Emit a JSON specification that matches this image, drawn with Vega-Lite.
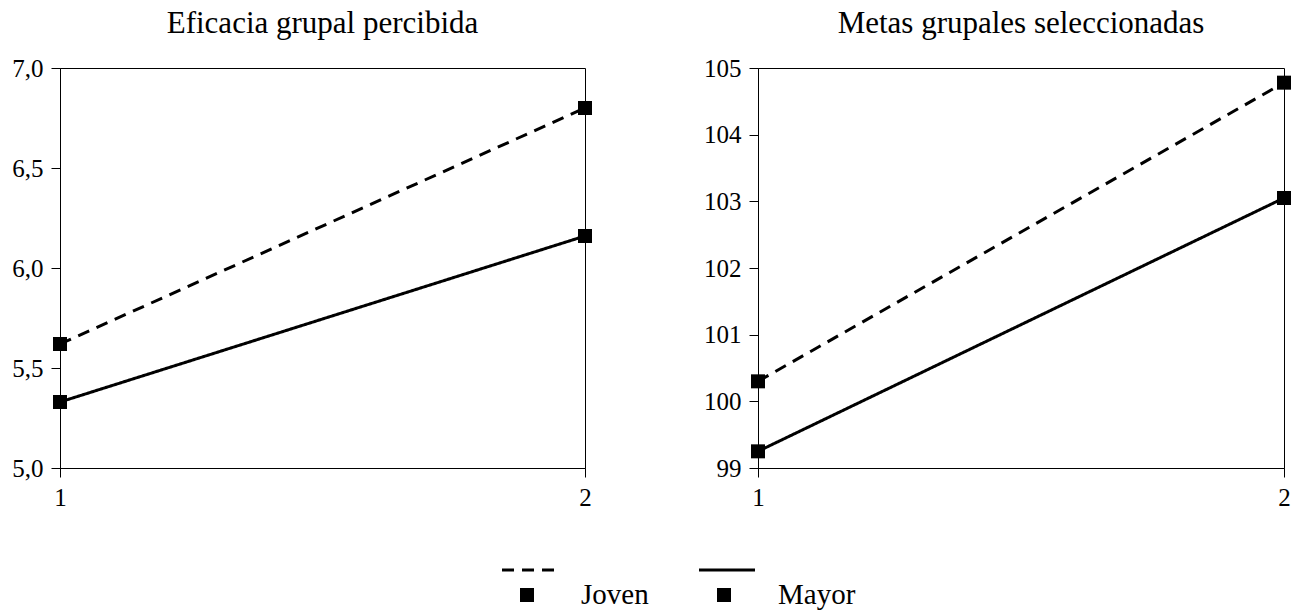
{
  "$schema": "https://vega.github.io/schema/vega-lite/v6.json",
  "background": "white",
  "padding": {"top": 7, "left": 11, "right": 5, "bottom": 0},
  "datasets": {
    "eficacia": [
      {"momento": 1, "grupo": "Joven", "valor": 5.62},
      {"momento": 2, "grupo": "Joven", "valor": 6.80},
      {"momento": 1, "grupo": "Mayor", "valor": 5.33},
      {"momento": 2, "grupo": "Mayor", "valor": 6.16}
    ],
    "metas": [
      {"momento": 1, "grupo": "Joven", "valor": 100.3},
      {"momento": 2, "grupo": "Joven", "valor": 104.78},
      {"momento": 1, "grupo": "Mayor", "valor": 99.25},
      {"momento": 2, "grupo": "Mayor", "valor": 103.05}
    ],
    "leyenda": [
      {"grupo": "Joven"},
      {"grupo": "Mayor"}
    ]
  },
  "config": {
    "view": {"stroke": "black", "strokeWidth": 1},
    "axis": {
      "grid": false,
      "domainColor": "black",
      "domainWidth": 1,
      "tickColor": "black",
      "tickWidth": 1,
      "tickSize": 9,
      "labelColor": "black",
      "labelFont": "Liberation Serif, Times New Roman, serif",
      "labelFontSize": 25,
      "labelFontWeight": "normal",
      "labelPadding": 8,
      "title": null
    },
    "title": {"font": "Liberation Serif, Times New Roman, serif", "fontSize": 31, "fontWeight": "normal", "color": "black", "offset": 16}
  },
  "vconcat": [
    {
      "hconcat": [
        {
          "title": "Eficacia grupal percibida",
          "width": 525,
          "height": 400,
          "data": {"name": "eficacia"},
          "encoding": {
            "x": {"field": "momento", "type": "quantitative", "scale": {"domain": [1, 2], "nice": false, "zero": false}, "axis": {"values": [1, 2], "format": "d", "labelFlush": false, "labelPadding": 8}},
            "y": {"field": "valor", "type": "quantitative", "scale": {"domain": [5, 7], "nice": false, "zero": false}, "axis": {"values": [5, 5.5, 6, 6.5, 7], "labelExpr": "replace(format(datum.value, '.1f'), '.', ',')"}}
          },
          "layer": [
            {
              "mark": {"type": "line", "color": "black", "strokeWidth": 3},
              "encoding": {
                "strokeDash": {"field": "grupo", "type": "nominal", "scale": {"domain": ["Joven", "Mayor"], "range": [[12, 8], [1, 0]]}, "legend": null}
              }
            },
            {
              "mark": {"type": "point", "shape": "square", "filled": true, "size": 196, "color": "black", "opacity": 1},
              "encoding": {"detail": {"field": "grupo"}}
            }
          ]
        },
        {
          "title": "Metas grupales seleccionadas",
          "width": 526,
          "height": 400,
          "data": {"name": "metas"},
          "encoding": {
            "x": {"field": "momento", "type": "quantitative", "scale": {"domain": [1, 2], "nice": false, "zero": false}, "axis": {"values": [1, 2], "format": "d", "labelFlush": false, "labelPadding": 8}},
            "y": {"field": "valor", "type": "quantitative", "scale": {"domain": [99, 105], "nice": false, "zero": false}, "axis": {"values": [99, 100, 101, 102, 103, 104, 105], "format": "d"}}
          },
          "layer": [
            {
              "mark": {"type": "line", "color": "black", "strokeWidth": 3},
              "encoding": {
                "strokeDash": {"field": "grupo", "type": "nominal", "scale": {"domain": ["Joven", "Mayor"], "range": [[12, 8], [1, 0]]}, "legend": null}
              }
            },
            {
              "mark": {"type": "point", "shape": "square", "filled": true, "size": 196, "color": "black", "opacity": 1},
              "encoding": {"detail": {"field": "grupo"}}
            }
          ]
        }
      ],
      "spacing": 110
    },
    {
      "width": 1000,
      "height": 25,
      "view": {"stroke": null},
      "data": {"name": "leyenda"},
      "encoding": {
        "x": {"field": "grupo", "type": "nominal", "scale": {"type": "point", "domain": ["Joven", "Mayor"], "range": [467, 664], "padding": 0}, "axis": null}
      },
      "layer": [
        {
          "mark": {"type": "point", "shape": "M-1,0L1,0", "filled": false, "strokeWidth": 3, "size": 3136, "color": "black", "opacity": 1, "xOffset": 3},
          "encoding": {
            "y": {"datum": "linea", "type": "nominal", "scale": {"type": "point", "domain": ["linea", "cuadro"], "range": [0, 25], "padding": 0}, "axis": null},
            "strokeDash": {"field": "grupo", "type": "nominal", "scale": {"domain": ["Joven", "Mayor"], "range": [[12, 8], [1, 0]]}, "legend": null}
          }
        },
        {
          "mark": {"type": "point", "shape": "square", "filled": true, "size": 196, "color": "black", "opacity": 1},
          "encoding": {
            "y": {"datum": "cuadro", "type": "nominal", "axis": null}
          }
        },
        {
          "mark": {"type": "text", "align": "left", "baseline": "middle", "dx": 54, "font": "Liberation Serif, Times New Roman, serif", "fontSize": 29, "fontWeight": "normal", "color": "black"},
          "encoding": {
            "y": {"datum": "cuadro", "type": "nominal", "axis": null},
            "text": {"field": "grupo"}
          }
        }
      ]
    }
  ],
  "spacing": 53
}
